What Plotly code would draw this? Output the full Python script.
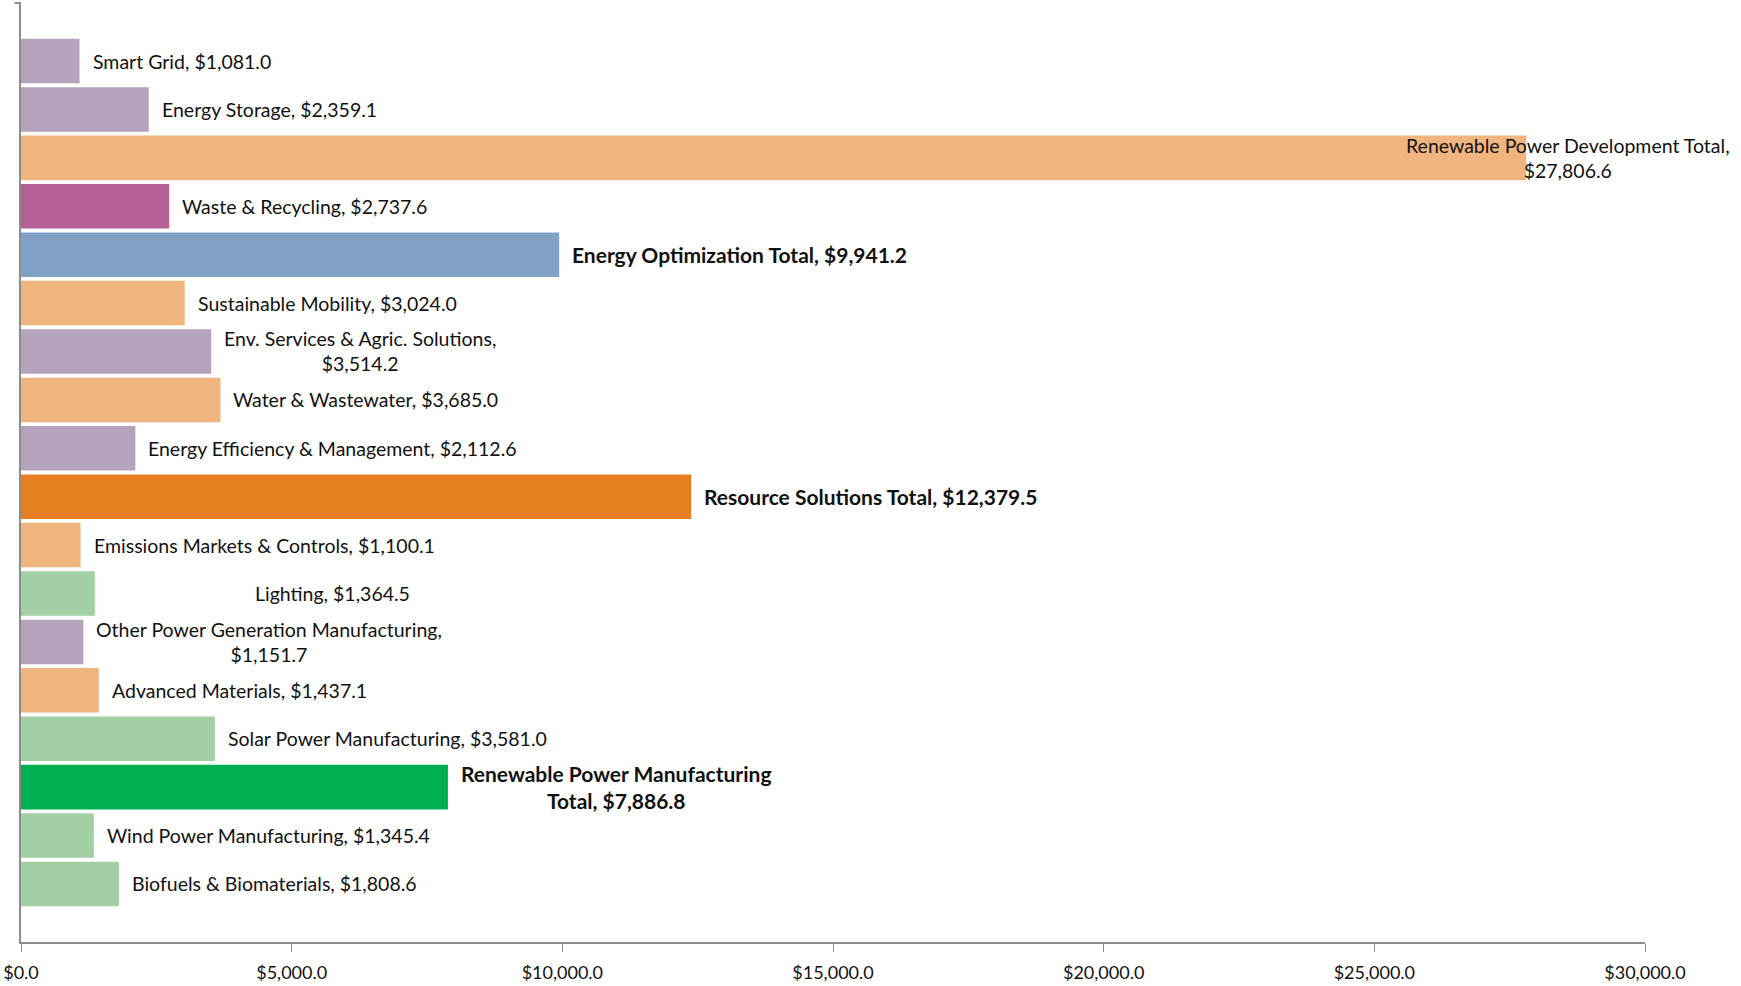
import plotly.graph_objects as go

categories = [
    "Smart Grid", "Energy Storage", "Renewable Power Development Total",
    "Waste & Recycling", "Energy Optimization Total", "Sustainable Mobility",
    "Env. Services & Agric. Solutions", "Water & Wastewater",
    "Energy Efficiency & Management", "Resource Solutions Total",
    "Emissions Markets & Controls", "Lighting",
    "Other Power Generation Manufacturing", "Advanced Materials",
    "Solar Power Manufacturing", "Renewable Power Manufacturing Total",
    "Wind Power Manufacturing", "Biofuels & Biomaterials",
]
values = [1081.0, 2359.1, 27806.6, 2737.6, 9941.2, 3024.0, 3514.2, 3685.0,
          2112.6, 12379.5, 1100.1, 1364.5, 1151.7, 1437.1, 3581.0, 7886.8,
          1345.4, 1808.6]
label_texts = [
    "Smart Grid, $1,081.0",
    "Energy Storage, $2,359.1",
    "Renewable Power Development Total,<br>$27,806.6",
    "Waste & Recycling, $2,737.6",
    "<b>Energy Optimization Total, $9,941.2</b>",
    "Sustainable Mobility, $3,024.0",
    "Env. Services & Agric. Solutions,<br>$3,514.2",
    "Water & Wastewater, $3,685.0",
    "Energy Efficiency & Management, $2,112.6",
    "<b>Resource Solutions Total, $12,379.5</b>",
    "Emissions Markets & Controls, $1,100.1",
    "Lighting, $1,364.5",
    "Other Power Generation Manufacturing,<br>$1,151.7",
    "Advanced Materials, $1,437.1",
    "Solar Power Manufacturing, $3,581.0",
    "<b>Renewable Power Manufacturing<br>Total, $7,886.8</b>",
    "Wind Power Manufacturing, $1,345.4",
    "Biofuels & Biomaterials, $1,808.6",
]
tick_vals = [0, 5000, 10000, 15000, 20000, 25000, 30000]
tick_text = ["$0.0", "$5,000.0", "$10,000.0", "$15,000.0", "$20,000.0",
             "$25,000.0", "$30,000.0"]

PURPLE = "#B5A3BE"
LORANGE = "#F0B47E"
MAGENTA = "#B45F96"
BLUE = "#81A1C6"
ORANGE = "#E67E22"
LGREEN = "#A3CFA4"
GREEN = "#00B050"
colors = [PURPLE, PURPLE, LORANGE, MAGENTA, BLUE, LORANGE, PURPLE, LORANGE,
          PURPLE, ORANGE, LORANGE, LGREEN, PURPLE, LORANGE, LGREEN, GREEN,
          LGREEN, LGREEN]

fig = go.Figure(go.Bar(
    x=values, y=categories, orientation="h",
    marker=dict(color=colors, line=dict(width=0)),
    width=0.92, hoverinfo="x+y",
))

FONT = "Lato, 'Source Sans Pro', 'Open Sans', sans-serif"
annotations = []
for cat, val, txt in zip(categories, values, label_texts):
    xanchor, xshift = "left", 11
    if cat == "Lighting":
        xshift = 158
    if cat == "Renewable Power Development Total":
        xanchor, xshift = "center", 42
    size = 21 if txt.startswith("<b>") else 19.5
    annotations.append(dict(
        x=val, y=cat, xref="x", yref="y", text=txt, showarrow=False,
        xanchor=xanchor, yanchor="middle", xshift=xshift, align="center",
        font=dict(family=FONT, size=size, color="#111111"),
    ))

fig.update_layout(
    width=1741, height=986,
    margin=dict(l=19, r=96, t=3, b=39),
    paper_bgcolor="white", plot_bgcolor="white",
    showlegend=False,
    annotations=annotations,
    xaxis=dict(
        range=[0, 30000], tickvals=tick_vals, ticktext=tick_text,
        showgrid=False, zeroline=False, showline=True, linecolor="#8c8c8c",
        linewidth=2, ticks="outside", ticklen=8, tickcolor="#8c8c8c",
        tickfont=dict(family=FONT, size=18, color="#111111"),
        ticklabelstandoff=5,
    ),
    yaxis=dict(
        categoryorder="array", categoryarray=categories,
        range=[18.2, -1.2], showticklabels=False, showgrid=False,
        zeroline=False, showline=True, linecolor="#8c8c8c", linewidth=2,
        ticks="",
    ),
    shapes=[dict(type="line", xref="paper", yref="paper", x0=-0.004, x1=0,
                 y0=1, y1=1, line=dict(color="#8c8c8c", width=2))],
)

fig.write_html("out.html")
